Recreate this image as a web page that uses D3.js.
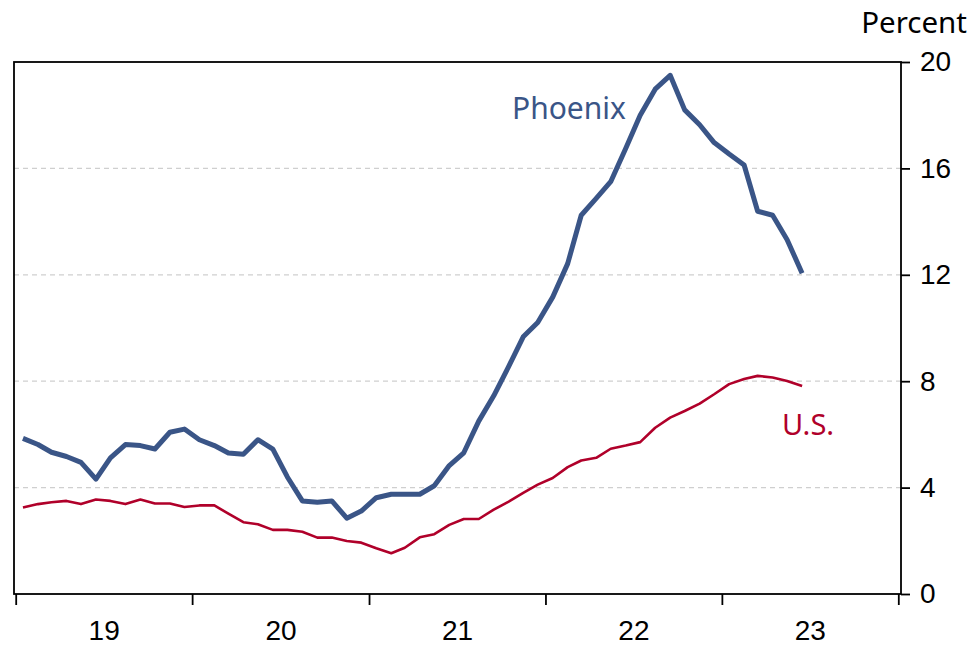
<!doctype html>
<html lang="en">
<head>
  <meta charset="utf-8">
  <title>Phoenix vs U.S. — percent</title>
  <style>
    body { margin: 0; background: #fff; }
    svg { display: block; font-family: "Noto Sans", sans-serif; }
    .grid line { stroke: #cfcfcf; stroke-width: 1.3px; stroke-dasharray: 5 4; }
    .axis text { font-size: 28px; fill: #000; }
    .axis line { stroke: #000; stroke-width: 1.8px; }
    .axis path { display: none; }
  </style>
</head>
<body>
  <svg id="chart" width="973" height="647"></svg>
  <script src="https://d3js.org/d3.v7.min.js"></script>
  <script>
    // Monthly series, Jan 2019 onward
    const phoenix = [
      5.85, 5.62, 5.33, 5.17, 4.95, 4.32, 5.12, 5.62, 5.58, 5.45, 6.08, 6.2,
      5.8, 5.58, 5.3, 5.25, 5.8, 5.45, 4.4, 3.5, 3.45, 3.5, 2.85, 3.12,
      3.62, 3.75, 3.75, 3.75, 4.07, 4.83, 5.31, 6.5, 7.45, 8.52, 9.67, 10.21,
      11.16, 12.42, 14.24, 14.87, 15.5, 16.75, 18.0, 18.98, 19.5, 18.2, 17.64, 16.97,
      16.54, 16.13, 14.39, 14.24, 13.32, 12.06
    ];
    const us = [
      3.25, 3.38, 3.45, 3.5, 3.38, 3.55, 3.5, 3.38, 3.55, 3.4, 3.4, 3.27,
      3.33, 3.33, 3.02, 2.7, 2.62, 2.41, 2.41, 2.34, 2.12, 2.12, 1.99, 1.93,
      1.72, 1.53, 1.74, 2.13, 2.25, 2.6, 2.82, 2.82, 3.17, 3.46, 3.8, 4.11,
      4.36, 4.77, 5.02, 5.12, 5.46, 5.58, 5.71, 6.25, 6.63, 6.88, 7.16, 7.51,
      7.89, 8.08, 8.2, 8.14, 8.01, 7.82
    ];
    const years = [2019, 2020, 2021, 2022, 2023];
    const yearLabels = ["19", "20", "21", "22", "23"];
    const yTicks = [0, 4, 8, 12, 16, 20];
    const gridTicks = [4, 8, 12, 16];

    const svg = d3.select("#chart");
    const plot = { left: 14, right: 901, top: 62, bottom: 594 };

    const x = d3.scaleUtc()
      .domain([new Date(Date.UTC(2019, 0, 1)), new Date(Date.UTC(2024, 0, 1))])
      .range([15.7, 898.3]);
    const y = d3.scaleLinear().domain([0, 20]).range([plot.bottom, plot.top]);

    const monthMid = (i) => new Date(Date.UTC(2019, i, 16));

    // dashed gridlines
    svg.append("g")
      .attr("class", "grid")
      .selectAll("line")
      .data(gridTicks)
      .enter().append("line")
      .attr("x1", plot.left).attr("x2", plot.right)
      .attr("y1", (d) => y(d)).attr("y2", (d) => y(d));

    // year tick marks along the bottom
    svg.append("g")
      .attr("class", "axis")
      .attr("transform", `translate(0,${plot.bottom})`)
      .call(d3.axisBottom(x)
        .tickValues(years.concat(2024).map((yr) => new Date(Date.UTC(yr, 0, 1))))
        .tickSize(11)
        .tickFormat(""));

    // year labels, centred in each year
    svg.append("g")
      .attr("class", "axis")
      .attr("transform", `translate(0,${plot.bottom})`)
      .call(d3.axisBottom(x)
        .tickValues(years.map((yr) => new Date(Date.UTC(yr, 6, 2))))
        .tickSize(0)
        .tickPadding(26)
        .tickFormat((d, i) => yearLabels[i]));

    // right value axis
    svg.append("g")
      .attr("class", "axis")
      .attr("transform", `translate(${plot.right},0)`)
      .call(d3.axisRight(y).tickValues(yTicks).tickSize(9).tickPadding(10));

    // plot frame
    svg.append("rect")
      .attr("x", plot.left).attr("y", plot.top)
      .attr("width", plot.right - plot.left).attr("height", plot.bottom - plot.top)
      .attr("fill", "none")
      .attr("stroke", "#000")
      .attr("stroke-width", 1.8);

    const line = d3.line()
      .x((d, i) => x(monthMid(i)))
      .y((d) => y(d));

    svg.append("path")
      .datum(us)
      .attr("fill", "none")
      .attr("stroke", "#b0002a")
      .attr("stroke-width", 2.6)
      .attr("stroke-linejoin", "round")
      .attr("d", line);

    svg.append("path")
      .datum(phoenix)
      .attr("fill", "none")
      .attr("stroke", "#3a5587")
      .attr("stroke-width", 5)
      .attr("stroke-linejoin", "round")
      .attr("d", line);

    svg.append("text")
      .attr("x", 967).attr("y", 33)
      .attr("text-anchor", "end")
      .attr("font-size", 29.5)
      .text("Percent");

    svg.append("text")
      .attr("x", 512).attr("y", 119)
      .attr("font-size", 30)
      .attr("fill", "#3a5587")
      .text("Phoenix");

    svg.append("text")
      .attr("x", 782).attr("y", 435)
      .attr("font-size", 29)
      .attr("fill", "#b0002a")
      .text("U.S.");
  </script>
</body>
</html>
